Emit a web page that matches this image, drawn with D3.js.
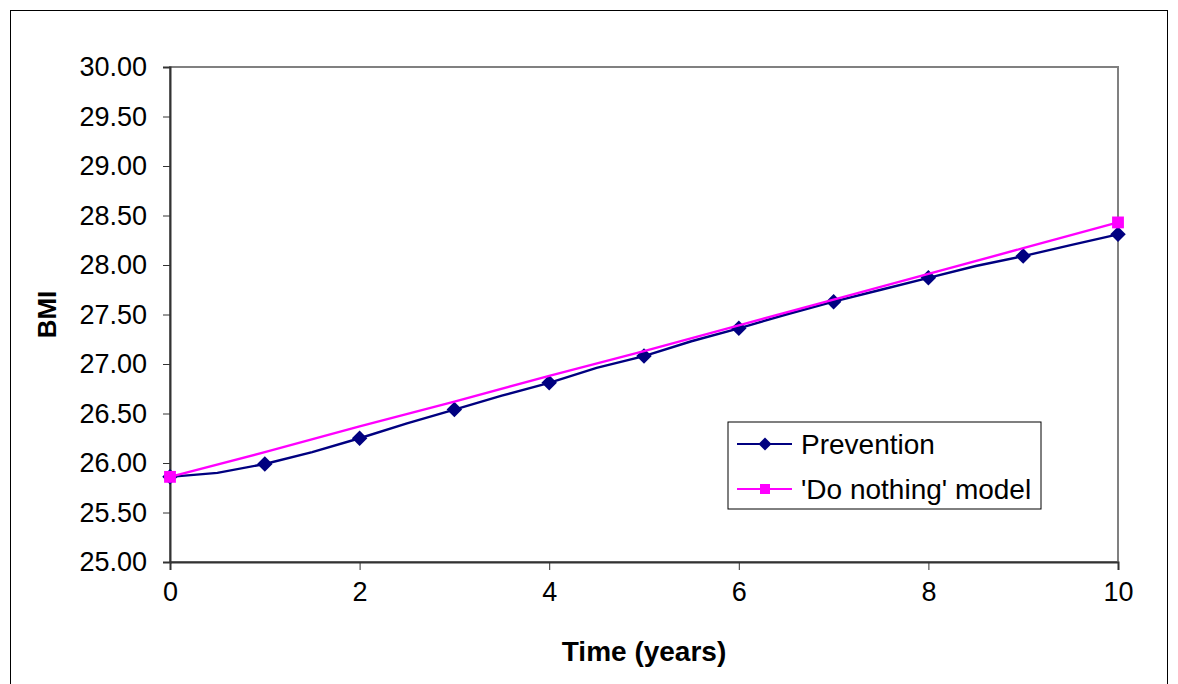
<!DOCTYPE html>
<html>
<head>
<meta charset="utf-8">
<script src="https://cdn.jsdelivr.net/npm/d3@7"></script>
<style>
  body { margin: 0; background: #fff; }
  svg text { font-family: "Liberation Sans", Arial, sans-serif; fill: #000; }
</style>
</head>
<body>
<svg id="chart" width="1178" height="684"></svg>
<script>
// prevention line (half-year vertices), markers only on whole years
var prevT = [0, 0.5, 1, 1.5, 2, 2.5, 3, 3.5, 4, 4.5, 5, 5.5, 6, 6.5, 7, 7.5, 8, 8.5, 9, 9.5, 10];
var prevBMI = [25.86, 25.90, 25.99, 26.11, 26.25, 26.40, 26.54, 26.68, 26.81, 26.96, 27.08,
  27.23, 27.36, 27.50, 27.63, 27.75, 27.87, 27.99, 28.09, 28.20, 28.31];
// 'do nothing' model, markers at start and end only
var nothingT = [0, 1, 2, 3, 4, 5, 6, 7, 8, 9, 10];
var nothingBMI = [25.86, 26.11, 26.37, 26.62, 26.88, 27.13, 27.39, 27.65, 27.91, 28.17, 28.43];
var nothingMarked = [0, 10];

var yTicks = [25, 25.5, 26, 26.5, 27, 27.5, 28, 28.5, 29, 29.5, 30];
var xTicks = [0, 2, 4, 6, 8, 10];
var seriesNames = ["Prevention", "'Do nothing' model"];
var colors = ["#000080", "#FF00FF"];

function drawChart() {
  var svg = d3.select("#chart");
  var pLeft = 170, pRight = 1118, pTop = 67, pBottom = 562;

  var x = d3.scaleLinear().domain([0, 10]).range([pLeft, pRight]);
  var y = d3.scaleLinear().domain([25, 30]).range([pBottom, pTop]);

  // outer chart border
  svg.append("rect")
    .attr("x", 10.5).attr("y", 10.5)
    .attr("width", 1157).attr("height", 690)
    .attr("fill", "none").attr("stroke", "#000").attr("stroke-width", 1);

  // plot area frame (gray)
  svg.append("rect")
    .attr("x", pLeft).attr("y", pTop)
    .attr("width", pRight - pLeft).attr("height", pBottom - pTop)
    .attr("fill", "#fff").attr("stroke", "#808080").attr("stroke-width", 2);

  // y axis
  var yAxis = svg.append("g")
    .attr("transform", "translate(" + pLeft + ",0)")
    .call(d3.axisLeft(y).tickValues(yTicks).tickSize(7).tickPadding(16).tickFormat(d3.format(".2f")));
  yAxis.select(".domain").attr("stroke", "#333").attr("stroke-width", 2);
  yAxis.selectAll(".tick line").attr("stroke", "#333").attr("stroke-width", 1);
  yAxis.selectAll("text").style("font-size", "27px").attr("fill", "#000");

  // x axis
  var xAxis = svg.append("g")
    .attr("transform", "translate(0," + pBottom + ")")
    .call(d3.axisBottom(x).tickValues(xTicks).tickSize(8).tickPadding(12).tickFormat(d3.format("d")));
  xAxis.select(".domain").attr("stroke", "#333").attr("stroke-width", 2);
  xAxis.selectAll(".tick line").attr("stroke", "#333").attr("stroke-width", 1);
  xAxis.selectAll("text").style("font-size", "27px").attr("fill", "#000");

  // axis titles
  svg.append("text")
    .attr("transform", "translate(56," + ((pTop + pBottom) / 2) + ") rotate(-90)")
    .attr("text-anchor", "middle")
    .style("font-size", "26px").style("font-weight", "bold")
    .text("BMI");
  svg.append("text")
    .attr("x", (pLeft + pRight) / 2).attr("y", 661)
    .attr("text-anchor", "middle")
    .style("font-size", "28px").style("font-weight", "bold")
    .text("Time (years)");

  var line = d3.line().x(d => x(d[0])).y(d => y(d[1]));

  var prevPts = prevT.map((t, i) => [t, prevBMI[i]]);
  var nothingPts = nothingT.map((t, i) => [t, nothingBMI[i]]);

  svg.append("path").datum(prevPts)
    .attr("d", line).attr("fill", "none")
    .attr("stroke", colors[0]).attr("stroke-width", 2.4);

  svg.selectAll(".prev-mark")
    .data(prevPts.filter(d => Number.isInteger(d[0])))
    .enter().append("path")
    .attr("class", "prev-mark")
    .attr("d", d3.symbol().type(d3.symbolSquare).size(120))
    .attr("transform", d => "translate(" + x(d[0]) + "," + y(d[1]) + ") rotate(45)")
    .attr("fill", colors[0]);

  svg.append("path").datum(nothingPts)
    .attr("d", line).attr("fill", "none")
    .attr("stroke", colors[1]).attr("stroke-width", 2.4);

  svg.selectAll(".nothing-mark")
    .data(nothingPts.filter(d => nothingMarked.includes(d[0])))
    .enter().append("path")
    .attr("class", "nothing-mark")
    .attr("d", d3.symbol().type(d3.symbolSquare).size(140))
    .attr("transform", d => "translate(" + x(d[0]) + "," + y(d[1]) + ")")
    .attr("fill", colors[1]);

  // legend
  var lg = svg.append("g").attr("transform", "translate(728,422)");
  lg.append("rect")
    .attr("x", 0).attr("y", 0).attr("width", 313).attr("height", 87)
    .attr("fill", "#fff").attr("stroke", "#000").attr("stroke-width", 1);

  seriesNames.forEach(function (name, i) {
    var ly = 22 + i * 45;
    lg.append("line")
      .attr("x1", 9).attr("x2", 64).attr("y1", ly).attr("y2", ly)
      .attr("stroke", colors[i]).attr("stroke-width", 2);
    lg.append("path")
      .attr("d", d3.symbol().type(d3.symbolSquare).size(i === 0 ? 85 : 100))
      .attr("transform", "translate(37," + ly + ")" + (i === 0 ? " rotate(45)" : ""))
      .attr("fill", colors[i]);
    lg.append("text")
      .attr("x", 73).attr("y", ly + 10)
      .style("font-size", "28px")
      .text(name);
  });
}

drawChart();
</script>
</body>
</html>
